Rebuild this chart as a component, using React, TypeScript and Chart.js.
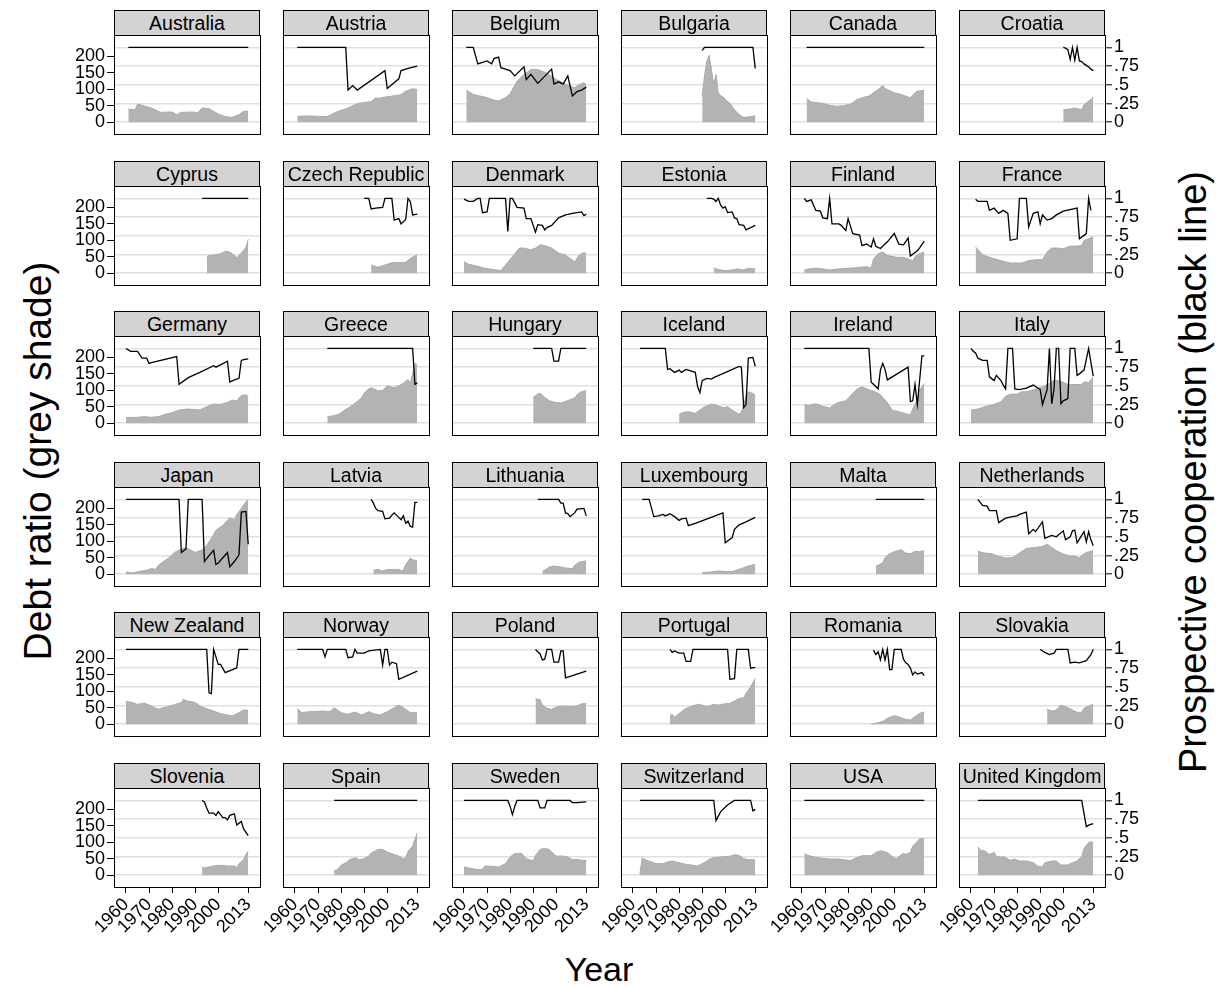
import React, { useEffect, useRef } from "react";
import { Chart, registerables } from "chart.js";

Chart.register(...registerables);

// ---------------- data ----------------
const COUNTRIES = [
  "Australia", "Austria", "Belgium", "Bulgaria", "Canada", "Croatia",
  "Cyprus", "Czech Republic", "Denmark", "Estonia", "Finland", "France",
  "Germany", "Greece", "Hungary", "Iceland", "Ireland", "Italy",
  "Japan", "Latvia", "Lithuania", "Luxembourg", "Malta", "Netherlands",
  "New Zealand", "Norway", "Poland", "Portugal", "Romania", "Slovakia",
  "Slovenia", "Spain", "Sweden", "Switzerland", "USA", "United Kingdom",
];

const YEAR_TICKS = [1960, 1970, 1980, 1990, 2000, 2013];
const DEBT_TICKS = [0, 50, 100, 150, 200];
const COOP_TICKS = [0, 0.25, 0.5, 0.75, 1];
const COOP_TICK_LABELS = ["0", ".25", ".5", ".75", "1"];

type Pt = [number, number];

// debt ratio (grey shade) — [year, value]
const AUSTRALIA_DEBT: Pt[] = [[1961,40],[1963,38],[1964,38],[1965,55],[1968,49],[1971,43],[1975,30],[1980,31],[1982,23],[1984,30],[1989,31],[1991,28],[1993,43],[1996,41],[2000,25],[2003,17],[2006,15],[2009,23],[2011,33],[2013,33]];
const AUSTRIA_DEBT: Pt[] = [[1961,18],[1966,19],[1974,17],[1978,31],[1983,43],[1987,56],[1990,60],[1993,62],[1995,74],[1996,72],[1999,76],[2002,79],[2005,82],[2006,84],[2008,94],[2011,101],[2013,99]];
const BELGIUM_DEBT: Pt[] = [[1961,97],[1964,84],[1969,76],[1973,67],[1975,64],[1978,74],[1980,86],[1983,124],[1986,144],[1989,159],[1992,159],[1994,154],[1997,144],[2000,129],[2003,119],[2006,109],[2008,104],[2010,114],[2012,119],[2013,114]];
const BULGARIA_DEBT: Pt[] = [[1990,79],[1991,140],[1992,185],[1993,202],[1994,160],[1995,114],[1996,144],[1997,89],[1998,80],[1999,76],[2000,70],[2001,62],[2002,58],[2003,48],[2004,38],[2005,30],[2006,24],[2007,18],[2008,15],[2009,15],[2010,16],[2011,17],[2012,18],[2013,20]];
const CANADA_DEBT: Pt[] = [[1962,72],[1964,61],[1969,57],[1972,51],[1975,48],[1978,50],[1981,55],[1984,69],[1987,76],[1989,79],[1993,99],[1995,111],[1996,102],[2000,89],[2003,84],[2005,79],[2007,74],[2008,82],[2010,94],[2013,96]];
const CROATIA_DEBT: Pt[] = [[2000,38],[2003,40],[2005,43],[2008,38],[2009,53],[2012,69],[2013,76]];
const CYPRUS_DEBT: Pt[] = [[1995,50],[1996,54],[1998,55],[2001,59],[2003,66],[2005,64],[2007,54],[2008,47],[2010,61],[2012,78],[2013,103]];
const CZECH_DEBT: Pt[] = [[1993,25],[1996,18],[1999,25],[2002,32],[2005,32],[2008,33],[2010,45],[2013,56]];
const DENMARK_DEBT: Pt[] = [[1960,35],[1962,27],[1965,23],[1969,15],[1974,10],[1976,8],[1978,25],[1981,50],[1984,76],[1986,76],[1989,71],[1991,76],[1993,86],[1995,84],[1998,76],[2001,61],[2004,55],[2007,40],[2008,35],[2010,55],[2012,63],[2013,59]];
const ESTONIA_DEBT: Pt[] = [[1995,16],[1997,11],[2000,8],[2003,10],[2005,13],[2008,10],[2010,15],[2012,13],[2013,15]];
const FINLAND_DEBT: Pt[] = [[1961,10],[1963,13],[1966,15],[1969,13],[1972,10],[1976,13],[1979,15],[1982,16],[1985,18],[1988,20],[1990,16],[1991,43],[1993,59],[1995,64],[1997,54],[2001,48],[2004,48],[2006,43],[2008,38],[2009,50],[2011,59],[2013,64]];
const FRANCE_DEBT: Pt[] = [[1962,79],[1965,56],[1968,48],[1973,38],[1977,31],[1982,31],[1985,38],[1988,41],[1991,41],[1993,64],[1995,76],[1998,76],[2000,74],[2003,82],[2006,82],[2008,84],[2009,99],[2012,107],[2013,111]];
const GERMANY_DEBT: Pt[] = [[1960,17],[1965,18],[1968,20],[1971,18],[1974,20],[1977,27],[1980,32],[1983,40],[1987,43],[1992,40],[1995,50],[1998,58],[2001,57],[2004,63],[2006,70],[2008,68],[2010,84],[2012,86],[2013,81]];
const GREECE_DEBT: Pt[] = [[1974,20],[1977,23],[1979,27],[1981,37],[1984,50],[1987,66],[1989,78],[1990,91],[1992,104],[1993,107],[1996,98],[1998,99],[2000,113],[2003,107],[2005,113],[2007,121],[2009,132],[2010,121],[2011,150],[2012,180],[2013,177]];
const HUNGARY_DEBT: Pt[] = [[1990,78],[1992,88],[1993,91],[1995,78],[1997,68],[1999,64],[2002,61],[2004,66],[2006,71],[2008,76],[2009,86],[2011,96],[2013,98]];
const ICELAND_DEBT: Pt[] = [[1980,27],[1982,33],[1984,35],[1987,30],[1989,40],[1991,50],[1994,58],[1996,55],[1999,47],[2001,50],[2003,40],[2006,27],[2007,33],[2009,80],[2010,95],[2012,90],[2013,84]];
const IRELAND_DEBT: Pt[] = [[1961,56],[1963,54],[1966,59],[1969,51],[1972,46],[1975,61],[1979,68],[1982,90],[1984,104],[1986,110],[1987,107],[1990,99],[1992,94],[1994,86],[1997,62],[1999,40],[2002,35],[2005,29],[2007,25],[2008,43],[2010,70],[2011,100],[2013,120]];
const ITALY_DEBT: Pt[] = [[1960,40],[1963,43],[1966,50],[1970,57],[1973,65],[1975,81],[1977,88],[1980,88],[1982,95],[1984,95],[1987,101],[1989,106],[1991,110],[1994,120],[1996,130],[1999,127],[2001,120],[2003,117],[2006,117],[2008,117],[2009,125],[2011,123],[2013,140]];
const JAPAN_DEBT: Pt[] = [[1960,7],[1963,4],[1966,9],[1969,12],[1971,17],[1973,15],[1974,27],[1977,42],[1979,52],[1981,66],[1984,76],[1986,80],[1988,73],[1990,66],[1993,73],[1995,88],[1997,108],[1999,133],[2002,148],[2004,163],[2005,170],[2007,165],[2008,180],[2010,199],[2011,209],[2013,227]];
const LATVIA_DEBT: Pt[] = [[1994,12],[1996,15],[1998,10],[2000,14],[2003,14],[2005,15],[2006,10],[2007,12],[2008,29],[2010,49],[2011,44],[2013,40]];
const LITHUANIA_DEBT: Pt[] = [[1994,9],[1995,12],[1997,22],[1999,25],[2002,22],[2004,19],[2007,17],[2008,27],[2010,37],[2012,39],[2013,41]];
const LUXEMBOURG_DEBT: Pt[] = [[1990,5],[1994,7],[1997,10],[2000,8],[2003,8],[2006,15],[2008,20],[2010,25],[2013,30]];
const MALTA_DEBT: Pt[] = [[1992,25],[1993,27],[1995,35],[1996,50],[1998,62],[2000,68],[2003,74],[2005,64],[2007,62],[2009,69],[2011,68],[2013,71]];
const NETHERLANDS_DEBT: Pt[] = [[1963,69],[1966,64],[1969,62],[1972,54],[1975,49],[1978,50],[1981,64],[1984,78],[1988,81],[1991,84],[1993,91],[1995,81],[1997,71],[2000,61],[2003,55],[2005,55],[2007,49],[2008,57],[2010,66],[2012,69],[2013,74]];
const NEWZEALAND_DEBT: Pt[] = [[1960,69],[1963,65],[1965,60],[1968,64],[1971,55],[1974,45],[1976,50],[1978,53],[1981,59],[1984,66],[1985,76],[1986,71],[1990,66],[1992,55],[1995,47],[1998,40],[2001,32],[2004,28],[2006,25],[2009,35],[2011,43],[2013,42]];
const NORWAY_DEBT: Pt[] = [[1961,47],[1963,35],[1966,38],[1969,38],[1972,40],[1975,38],[1977,50],[1980,35],[1983,30],[1986,37],[1989,28],[1992,38],[1994,32],[1997,28],[2000,38],[2003,50],[2005,58],[2007,50],[2009,40],[2010,35],[2013,35]];
const POLAND_DEBT: Pt[] = [[1991,77],[1993,74],[1994,58],[1996,48],[1998,45],[2000,52],[2003,55],[2006,53],[2009,55],[2011,62],[2013,62]];
const PORTUGAL_DEBT: Pt[] = [[1976,26],[1977,30],[1978,21],[1981,38],[1983,48],[1985,53],[1988,60],[1990,58],[1992,53],[1995,60],[1997,58],[1999,61],[2002,63],[2004,70],[2006,78],[2008,80],[2009,93],[2011,113],[2013,139]];
const ROMANIA_DEBT: Pt[] = [[1990,0],[1993,5],[1995,8],[1997,18],[2000,26],[2003,20],[2005,15],[2007,13],[2009,23],[2011,33],[2013,37]];
const SLOVAKIA_DEBT: Pt[] = [[1993,46],[1994,43],[1995,40],[1997,43],[1999,58],[2002,50],[2004,43],[2006,36],[2008,36],[2009,48],[2011,55],[2013,60]];
const SLOVENIA_DEBT: Pt[] = [[1993,25],[1994,22],[1996,25],[1998,28],[2001,30],[2004,28],[2007,28],[2008,23],[2009,35],[2011,47],[2012,63],[2013,73]];
const SPAIN_DEBT: Pt[] = [[1977,15],[1978,15],[1980,30],[1982,38],[1984,48],[1986,53],[1988,47],[1990,50],[1992,58],[1993,67],[1996,78],[1998,78],[2000,70],[2003,63],[2005,58],[2007,50],[2008,52],[2009,72],[2011,88],[2013,128]];
const SWEDEN_DEBT: Pt[] = [[1960,25],[1962,22],[1965,18],[1968,17],[1969,28],[1972,27],[1975,25],[1978,35],[1980,55],[1982,66],[1985,66],[1987,50],[1990,43],[1991,60],[1993,78],[1995,81],[1997,78],[1998,70],[2000,58],[2003,58],[2005,55],[2007,47],[2009,48],[2011,45],[2013,45]];
const SWITZERLAND_DEBT: Pt[] = [[1963,5],[1964,52],[1966,45],[1968,40],[1970,35],[1973,35],[1975,40],[1977,43],[1980,38],[1983,33],[1986,30],[1988,28],[1991,38],[1993,48],[1995,53],[1998,55],[2000,57],[2002,57],[2004,62],[2006,60],[2008,50],[2010,47],[2013,47]];
const USA_DEBT: Pt[] = [[1961,65],[1963,59],[1966,54],[1969,51],[1972,49],[1976,49],[1979,46],[1981,44],[1983,51],[1986,59],[1990,59],[1992,69],[1994,74],[1997,69],[1999,57],[2001,49],[2002,57],[2004,66],[2005,63],[2007,69],[2008,88],[2010,102],[2011,110],[2013,110]];
const UK_DEBT: Pt[] = [[1963,86],[1964,76],[1966,73],[1968,63],[1970,69],[1971,57],[1973,54],[1974,57],[1977,45],[1979,49],[1981,43],[1984,43],[1987,38],[1989,27],[1991,25],[1992,38],[1995,43],[1997,43],[1999,31],[2002,31],[2004,38],[2006,43],[2008,57],[2009,81],[2011,99],[2012,101],[2013,99]];

// prospective cooperation (black line) — [year, value]
const AUSTRALIA_COOP: Pt[] = [[1961,1],[2013,1]];
const AUSTRIA_COOP: Pt[] = [[1961,1],[1982,1],[1983,0.43],[1985,0.49],[1987,0.43],[1999,0.69],[2000,0.45],[2005,0.58],[2006,0.69],[2009,0.72],[2013,0.75]];
const BELGIUM_COOP: Pt[] = [[1961,1],[1964,1],[1966,0.78],[1970,0.82],[1972,0.78],[1973,0.85],[1975,0.87],[1976,0.73],[1978,0.71],[1980,0.69],[1982,0.62],[1986,0.74],[1987,0.57],[1989,0.64],[1992,0.52],[1998,0.71],[1999,0.51],[2001,0.54],[2003,0.51],[2005,0.62],[2007,0.35],[2009,0.41],[2011,0.43],[2013,0.47]];
const BULGARIA_COOP: Pt[] = [[1990,0.96],[1991,1],[2012,1],[2013,0.72]];
const CANADA_COOP: Pt[] = [[1962,1],[2013,1]];
const CROATIA_COOP: Pt[] = [[2000,1],[2001,0.99],[2002,0.97],[2003,0.84],[2004,1],[2005,0.83],[2006,1],[2007,0.82],[2008,0.81],[2009,0.78],[2010,0.76],[2011,0.74],[2012,0.71],[2013,0.69]];
const CYPRUS_COOP: Pt[] = [[1993,1],[2013,1]];
const CZECH_COOP: Pt[] = [[1990,1],[1992,1],[1993,0.86],[1995,0.87],[1998,0.88],[1999,1],[2002,1],[2003,0.71],[2005,0.73],[2006,0.66],[2008,0.72],[2009,1],[2010,0.96],[2011,0.78],[2013,0.79]];
const DENMARK_COOP: Pt[] = [[1960,0.99],[1962,0.96],[1964,0.96],[1966,1],[1967,1],[1968,0.81],[1970,0.82],[1971,1],[1978,1],[1979,0.56],[1980,1],[1981,1],[1983,0.88],[1986,0.87],[1987,0.73],[1989,0.73],[1991,0.55],[1992,0.65],[1994,0.64],[1995,0.58],[1996,0.61],[1998,0.64],[2001,0.74],[2004,0.78],[2007,0.80],[2011,0.82],[2012,0.77],[2013,0.79]];
const ESTONIA_COOP: Pt[] = [[1992,1],[1994,1],[1995,0.99],[1996,0.96],[1997,1],[1998,0.91],[1999,0.87],[2000,0.89],[2001,0.81],[2003,0.82],[2004,0.74],[2005,0.73],[2006,0.65],[2008,0.64],[2009,0.58],[2013,0.64]];
const FINLAND_COOP: Pt[] = [[1961,1],[1962,0.96],[1964,0.98],[1966,0.84],[1968,0.83],[1969,0.74],[1971,0.73],[1972,1],[1973,0.66],[1976,0.66],[1977,0.64],[1979,0.57],[1980,0.73],[1982,0.53],[1985,0.51],[1986,0.37],[1988,0.39],[1990,0.35],[1991,0.46],[1992,0.36],[1994,0.33],[1997,0.42],[2000,0.53],[2002,0.39],[2004,0.38],[2006,0.47],[2007,0.23],[2010,0.30],[2011,0.34],[2013,0.43]];
const FRANCE_COOP: Pt[] = [[1962,0.99],[1963,0.96],[1967,0.96],[1968,0.84],[1970,0.87],[1972,0.80],[1974,0.84],[1976,0.80],[1977,0.44],[1980,0.46],[1981,1],[1984,1],[1985,0.62],[1987,0.80],[1989,0.82],[1990,0.66],[1991,0.78],[1993,0.71],[1995,0.73],[1997,0.78],[2000,0.83],[2006,0.87],[2007,0.46],[2010,0.53],[2011,1],[2012,0.84]];
const GERMANY_COOP: Pt[] = [[1960,1],[1962,0.96],[1965,0.96],[1967,0.87],[1969,0.87],[1970,0.80],[1971,0.81],[1982,0.89],[1983,0.52],[1987,0.61],[1992,0.68],[1998,0.77],[1999,0.75],[2004,0.83],[2005,0.55],[2007,0.58],[2009,0.60],[2010,0.84],[2011,0.85],[2013,0.86]];
const GREECE_COOP: Pt[] = [[1974,1],[2011,1],[2012,0.52],[2013,0.54]];
const HUNGARY_COOP: Pt[] = [[1990,1],[1998,1],[1999,0.83],[2001,0.83],[2002,1],[2013,1]];
const ICELAND_COOP: Pt[] = [[1963,1],[1974,1],[1975,0.72],[1976,0.73],[1978,0.68],[1980,0.71],[1981,0.68],[1983,0.72],[1985,0.70],[1987,0.68],[1988,0.49],[1989,0.41],[1990,0.57],[1992,0.60],[1994,0.59],[1995,0.61],[2006,0.76],[2007,0.75],[2008,0.21],[2009,0.25],[2010,0.87],[2012,0.88],[2013,0.76]];
const IRELAND_COOP: Pt[] = [[1961,1],[1989,1],[1990,0.55],[1991,0.52],[1993,0.46],[1994,0.71],[1995,0.80],[1996,0.72],[1997,0.58],[2006,0.75],[2007,0.29],[2008,0.30],[2009,0.52],[2010,0.25],[2012,0.90],[2013,0.90]];
const ITALY_COOP: Pt[] = [[1960,1],[1961,0.96],[1962,0.94],[1963,0.87],[1965,0.84],[1967,0.84],[1968,0.62],[1970,0.57],[1971,0.64],[1973,0.57],[1974,0.51],[1975,0.46],[1976,1],[1978,1],[1979,0.46],[1981,0.45],[1984,0.47],[1987,0.51],[1990,0.45],[1991,0.25],[1993,0.45],[1994,1],[1995,0.26],[1996,0.46],[1997,1],[1998,1],[1999,0.26],[2000,0.30],[2002,0.33],[2003,1],[2005,1],[2006,0.64],[2007,0.66],[2009,0.71],[2011,1],[2013,0.63]];
const JAPAN_COOP: Pt[] = [[1960,1],[1983,1],[1984,0.29],[1986,0.34],[1987,1],[1993,1],[1994,0.17],[1996,0.25],[1998,0.32],[1999,0.13],[2000,0.15],[2004,0.29],[2005,0.10],[2007,0.17],[2009,0.26],[2010,0.83],[2012,0.84],[2013,0.40]];
const LATVIA_COOP: Pt[] = [[1993,1],[1994,0.95],[1995,0.88],[1996,0.85],[1998,0.84],[1999,0.74],[2001,0.75],[2002,0.79],[2003,0.82],[2005,0.76],[2006,0.73],[2007,0.78],[2008,0.68],[2009,0.71],[2010,0.64],[2011,0.63],[2012,0.96],[2013,0.96]];
const LITHUANIA_COOP: Pt[] = [[1992,1],[2001,1],[2002,0.95],[2003,0.95],[2004,0.82],[2005,0.81],[2006,0.77],[2008,0.82],[2009,0.87],[2012,0.88],[2013,0.78]];
const LUXEMBOURG_COOP: Pt[] = [[1964,1],[1967,1],[1969,0.77],[1971,0.78],[1973,0.80],[1974,0.78],[1976,0.81],[1978,0.77],[1980,0.72],[1981,0.74],[1983,0.75],[1984,0.65],[1987,0.68],[1999,0.82],[2000,0.42],[2003,0.49],[2004,0.60],[2006,0.66],[2009,0.70],[2013,0.76]];
const MALTA_COOP: Pt[] = [[1992,1],[2013,1]];
const NETHERLANDS_COOP: Pt[] = [[1963,1],[1964,0.96],[1965,0.92],[1967,0.91],[1968,0.85],[1971,0.85],[1972,0.69],[1975,0.75],[1978,0.77],[1980,0.78],[1981,0.80],[1984,0.83],[1985,0.54],[1987,0.60],[1988,0.57],[1991,0.70],[1992,0.48],[1995,0.52],[1997,0.50],[2000,0.58],[2001,0.46],[2003,0.50],[2004,0.58],[2005,0.59],[2006,0.42],[2007,0.47],[2009,0.57],[2010,0.43],[2011,0.57],[2012,0.46],[2013,0.38]];
const NEWZEALAND_COOP: Pt[] = [[1960,1],[1995,1],[1996,0.42],[1997,0.41],[1998,1],[2000,0.80],[2001,0.80],[2003,0.69],[2007,0.74],[2008,0.75],[2009,1],[2013,1]];
const NORWAY_COOP: Pt[] = [[1961,1],[1972,1],[1973,0.90],[1974,1],[1982,1],[1983,0.89],[1985,0.90],[1986,1],[1987,0.95],[1990,0.95],[1992,0.98],[1997,1],[1998,0.79],[1999,1],[2000,1],[2001,0.79],[2002,0.83],[2004,0.81],[2005,0.60],[2013,0.71]];
const POLAND_COOP: Pt[] = [[1991,1],[1992,0.97],[1993,0.94],[1994,0.86],[1995,0.87],[1996,1],[1998,1],[1999,0.83],[2001,0.83],[2002,0.98],[2003,0.98],[2004,0.62],[2009,0.67],[2013,0.71]];
const PORTUGAL_COOP: Pt[] = [[1976,1],[1977,0.96],[1978,0.98],[1980,0.95],[1982,0.95],[1983,0.84],[1985,0.84],[1986,1],[2001,1],[2002,0.60],[2004,0.61],[2005,1],[2010,1],[2011,0.75],[2013,0.76]];
const ROMANIA_COOP: Pt[] = [[1991,0.99],[1992,0.93],[1993,0.97],[1994,0.86],[1995,1],[1996,0.86],[1997,1],[1998,0.73],[1999,0.73],[2000,1],[2003,1],[2004,0.87],[2005,0.82],[2006,0.80],[2007,0.75],[2008,0.66],[2009,0.70],[2010,0.67],[2011,0.68],[2012,0.69],[2013,0.65]];
const SLOVAKIA_COOP: Pt[] = [[1990,1],[1992,0.96],[1994,0.93],[1996,0.95],[1997,1],[2002,1],[2003,0.82],[2005,0.83],[2007,0.82],[2010,0.85],[2012,0.93],[2013,1]];
const SLOVENIA_COOP: Pt[] = [[1993,1],[1994,0.98],[1995,0.90],[1996,0.83],[1998,0.83],[1999,0.80],[2000,0.85],[2002,0.77],[2003,0.77],[2004,0.74],[2005,0.80],[2007,0.82],[2008,0.67],[2010,0.72],[2011,0.62],[2013,0.53]];
const SPAIN_COOP: Pt[] = [[1977,1],[2013,1]];
const SWEDEN_COOP: Pt[] = [[1960,1],[1979,1],[1980,0.92],[1981,0.81],[1982,0.92],[1983,1],[1992,1],[1993,0.90],[1995,0.90],[1996,1],[2006,1],[2007,0.97],[2009,0.97],[2013,0.98]];
const SWITZERLAND_COOP: Pt[] = [[1963,1],[1995,1],[1996,0.73],[1998,0.85],[2001,0.94],[2004,1],[2011,1],[2012,0.86],[2013,0.88]];
const USA_COOP: Pt[] = [[1961,1],[2013,1]];
const UK_COOP: Pt[] = [[1963,1],[2008,1],[2010,0.65],[2011,0.67],[2013,0.69]];

const DEBT_SERIES: Pt[][] = [
  AUSTRALIA_DEBT, AUSTRIA_DEBT, BELGIUM_DEBT, BULGARIA_DEBT, CANADA_DEBT, CROATIA_DEBT,
  CYPRUS_DEBT, CZECH_DEBT, DENMARK_DEBT, ESTONIA_DEBT, FINLAND_DEBT, FRANCE_DEBT,
  GERMANY_DEBT, GREECE_DEBT, HUNGARY_DEBT, ICELAND_DEBT, IRELAND_DEBT, ITALY_DEBT,
  JAPAN_DEBT, LATVIA_DEBT, LITHUANIA_DEBT, LUXEMBOURG_DEBT, MALTA_DEBT, NETHERLANDS_DEBT,
  NEWZEALAND_DEBT, NORWAY_DEBT, POLAND_DEBT, PORTUGAL_DEBT, ROMANIA_DEBT, SLOVAKIA_DEBT,
  SLOVENIA_DEBT, SPAIN_DEBT, SWEDEN_DEBT, SWITZERLAND_DEBT, USA_DEBT, UK_DEBT,
];
const COOP_SERIES: Pt[][] = [
  AUSTRALIA_COOP, AUSTRIA_COOP, BELGIUM_COOP, BULGARIA_COOP, CANADA_COOP, CROATIA_COOP,
  CYPRUS_COOP, CZECH_COOP, DENMARK_COOP, ESTONIA_COOP, FINLAND_COOP, FRANCE_COOP,
  GERMANY_COOP, GREECE_COOP, HUNGARY_COOP, ICELAND_COOP, IRELAND_COOP, ITALY_COOP,
  JAPAN_COOP, LATVIA_COOP, LITHUANIA_COOP, LUXEMBOURG_COOP, MALTA_COOP, NETHERLANDS_COOP,
  NEWZEALAND_COOP, NORWAY_COOP, POLAND_COOP, PORTUGAL_COOP, ROMANIA_COOP, SLOVAKIA_COOP,
  SLOVENIA_COOP, SPAIN_COOP, SWEDEN_COOP, SWITZERLAND_COOP, USA_COOP, UK_COOP,
];

// ---------------- layout / style ----------------
const FONT = "'Liberation Sans', Arial, Helvetica, sans-serif";
const NCOL = 6;
const COL_X0 = 114;
const COL_STEP = 169;
const PANEL_W = 146;
const ROW_Y0 = 10;
const ROW_STEP = 150.5;
const HEAD_H = 26;
const PLOT_H = 99;
const PAD_L = 60;
const PAD_R = 60;
const PAD_B = 62;
const X_MIN = 1954.8;
const X_MAX = 2018.1;
const R_MIN = -0.157;
const R_MAX = 1.166;
const DEBT_PER_UNIT = 226;
const AREA_COLOR = "#b3b3b3";
const GRID_COLOR = "#e0e0e0";
const TICK_FONT = { family: FONT, size: 18 };

function Panel({ idx }: { idx: number }) {
  const ref = useRef<HTMLCanvasElement | null>(null);
  const row = Math.floor(idx / NCOL);
  const col = idx % NCOL;
  const nRows = Math.ceil(COUNTRIES.length / NCOL);
  const isBottom = row === nRows - 1;
  const isLeft = col === 0;
  const isRight = col === NCOL - 1;
  const x0 = COL_X0 + col * COL_STEP;
  const y0 = Math.round(ROW_Y0 + row * ROW_STEP);

  useEffect(() => {
    if (!ref.current) return;
    const zeroPad = (s: any) => {
      s.paddingTop = 0;
      s.paddingBottom = 0;
      s.paddingLeft = 0;
      s.paddingRight = 0;
    };
    const chart = new Chart(ref.current, {
      type: "line",
      data: {
        datasets: [
          {
            data: COOP_SERIES[idx].map(([x, y]) => ({ x, y })),
            yAxisID: "yR",
            borderColor: "#000",
            borderWidth: 1.3,
            pointRadius: 0,
            fill: false,
            tension: 0,
          },
          {
            data: DEBT_SERIES[idx].map(([x, y]) => ({ x, y })),
            yAxisID: "yL",
            borderColor: "#aaaaaa",
            backgroundColor: AREA_COLOR,
            borderWidth: 1,
            pointRadius: 0,
            fill: "origin",
            tension: 0,
          },
        ],
      },
      options: {
        animation: false,
        responsive: false,
        events: [],
        layout: { padding: 0, autoPadding: false },
        plugins: { legend: { display: false }, tooltip: { enabled: false } },
        scales: {
          x: {
            type: "linear",
            position: "bottom",
            min: X_MIN,
            max: X_MAX,
            afterBuildTicks: (s: any) => {
              s.ticks = YEAR_TICKS.map((v) => ({ value: v }));
            },
            afterFit: (s: any) => {
              s.height = PAD_B;
              zeroPad(s);
            },
            grid: {
              display: true,
              drawOnChartArea: false,
              drawTicks: isBottom,
              tickLength: 6,
              tickColor: "#000",
              tickWidth: 1,
            },
            border: { display: true, color: "#000", width: 1 },
            ticks: {
              display: isBottom,
              autoSkip: false,
              minRotation: 45,
              maxRotation: 45,
              padding: 1,
              color: "#000",
              font: TICK_FONT,
              callback: (v: any) => String(v),
            },
          },
          yL: {
            type: "linear",
            position: "left",
            min: R_MIN * DEBT_PER_UNIT,
            max: R_MAX * DEBT_PER_UNIT,
            afterBuildTicks: (s: any) => {
              s.ticks = DEBT_TICKS.map((v) => ({ value: v }));
            },
            afterFit: (s: any) => {
              s.width = PAD_L;
              zeroPad(s);
            },
            grid: {
              display: true,
              drawOnChartArea: false,
              drawTicks: isLeft,
              tickLength: 7,
              tickColor: "#000",
              tickWidth: 1,
            },
            border: { display: true, color: "#000", width: 1 },
            ticks: {
              display: isLeft,
              padding: 2,
              color: "#000",
              font: TICK_FONT,
              callback: (v: any) => String(v),
            },
          },
          yR: {
            type: "linear",
            position: "right",
            min: R_MIN,
            max: R_MAX,
            afterBuildTicks: (s: any) => {
              s.ticks = COOP_TICKS.map((v) => ({ value: v }));
            },
            afterFit: (s: any) => {
              s.width = PAD_R;
              zeroPad(s);
            },
            grid: {
              display: true,
              drawOnChartArea: true,
              color: GRID_COLOR,
              lineWidth: 1.6,
              drawTicks: isRight,
              tickLength: 7,
              tickColor: "#000",
              tickWidth: 1,
            },
            border: { display: true, color: "#000", width: 1 },
            ticks: {
              display: isRight,
              padding: 2,
              color: "#000",
              font: TICK_FONT,
              callback: (v: any) => {
                const i = COOP_TICKS.indexOf(Number(v));
                return i >= 0 ? COOP_TICK_LABELS[i] : "";
              },
            },
          },
        },
      },
    } as any);
    return () => chart.destroy();
  }, [idx]);

  return (
    <>
      <div
        style={{
          position: "absolute",
          left: x0,
          top: y0,
          width: PANEL_W,
          height: HEAD_H,
          boxSizing: "border-box",
          border: "1px solid #000",
          background: "#d3d3d3",
          display: "flex",
          alignItems: "center",
          justifyContent: "center",
          fontFamily: FONT,
          fontSize: 19.5,
          color: "#000",
          whiteSpace: "nowrap",
          overflow: "visible",
          zIndex: 2,
        }}
      >
        {COUNTRIES[idx]}
      </div>
      <canvas
        ref={ref}
        width={PANEL_W + PAD_L + PAD_R}
        height={PLOT_H + PAD_B}
        style={{
          position: "absolute",
          left: x0 - PAD_L,
          top: y0 + HEAD_H - 1,
          display: "block",
          zIndex: 1,
        }}
      />
    </>
  );
}

export default function App() {
  return (
    <div
      style={{
        position: "absolute",
        left: 0,
        top: 0,
        width: 1221,
        height: 988,
        background: "#fff",
        overflow: "hidden",
        fontFamily: FONT,
      }}
    >
      {COUNTRIES.map((_, i) => (
        <Panel key={i} idx={i} />
      ))}
      <div
        style={{
          position: "absolute",
          left: 38,
          top: 461,
          transform: "translate(-50%, -50%) rotate(-90deg)",
          whiteSpace: "nowrap",
          fontSize: 39,
          color: "#000",
        }}
      >
        Debt ratio (grey shade)
      </div>
      <div
        style={{
          position: "absolute",
          left: 1193,
          top: 472,
          transform: "translate(-50%, -50%) rotate(-90deg)",
          whiteSpace: "nowrap",
          fontSize: 38,
          color: "#000",
        }}
      >
        Prospective cooperation (black line)
      </div>
      <div
        style={{
          position: "absolute",
          left: 599,
          top: 969,
          transform: "translate(-50%, -50%)",
          whiteSpace: "nowrap",
          fontSize: 34,
          color: "#000",
        }}
      >
        Year
      </div>
    </div>
  );
}
